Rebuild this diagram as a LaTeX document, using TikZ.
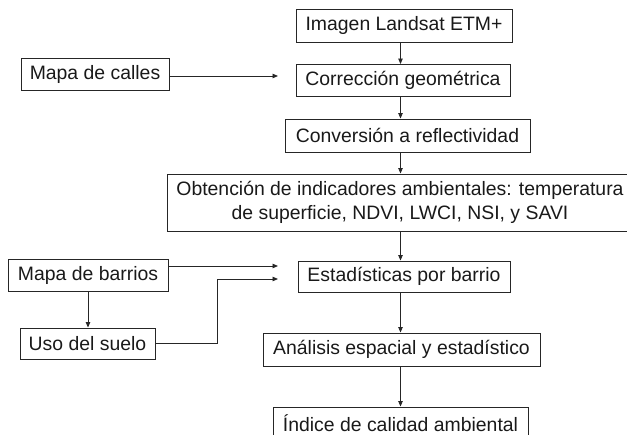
\documentclass[tikz,border=0pt]{standalone}
\usepackage{fontspec}
\setmainfont{Liberation Sans}
\usetikzlibrary{arrows.meta}
\begin{document}
\begin{tikzpicture}[x=1pt,y=-1pt,
  box/.style={draw=black!85, line width=0.9pt, inner sep=0pt, font=\fontsize{19.4}{24}\selectfont, text=black!90, align=center},
  conn/.style={draw=black!85, line width=0.9pt, -{Triangle[length=5.5pt,width=4.5pt]}}]
\useasboundingbox (0,0) rectangle (627,435);
\node[box, minimum width=216pt, minimum height=33pt] (landsat) at (404,25.5) {Imagen Landsat ETM+};
\node[box, minimum width=214pt, minimum height=32pt] (correc) at (403,80.5) {Corrección geométrica};
\node[box, minimum width=148pt, minimum height=32pt] (calles) at (95,74.5) {Mapa de calles};
\node[box, minimum width=245pt, minimum height=33pt] (conv) at (407.5,135.5) {Conversión a reflectividad};
\node[box, minimum width=466pt, minimum height=57pt] (obt) at (400,202.5) {Obtención de indicadores ambientales: temperatura\\de superficie, NDVI, LWCI, NSI, y SAVI};
\node[box, minimum width=212pt, minimum height=31pt] (estad) at (404,276.5) {Estadísticas por barrio};
\node[box, minimum width=160pt, minimum height=32pt] (barrios) at (88,275) {Mapa de barrios};
\node[box, minimum width=135pt, minimum height=31pt] (suelo) at (87.5,343.5) {Uso del suelo};
\node[box, minimum width=277pt, minimum height=33pt] (anal) at (401.5,349.5) {Análisis espacial y estadístico};
\node[box, minimum width=255pt, minimum height=33pt] (indice) at (400.5,423.5) {Índice de calidad ambiental};
\coordinate (ax) at (400.5,0);
\coordinate (ec1) at (278,266);
\coordinate (ec2) at (278,279);
\coordinate (ec0) at (278,76);
\coordinate (bx) at (217,0);
\draw[conn] (landsat.south -| ax) -- (correc.north -| ax);
\draw[conn] (correc.south -| ax) -- (conv.north -| ax);
\draw[conn] (conv.south -| ax) -- (obt.north -| ax);
\draw[conn] (obt.south -| ax) -- (estad.north -| ax);
\draw[conn] (estad.south -| ax) -- (anal.north -| ax);
\draw[conn] (anal.south -| ax) -- (indice.north -| ax);
\draw[conn] (calles.east |- ec0) -- (ec0);
\draw[conn] (barrios.east |- ec1) -- (ec1);
\draw[conn] (suelo.east) -- (suelo.east -| bx) -- (bx |- ec2) -- (ec2);
\draw[conn] (barrios.south) -- (suelo.north -| barrios.south);
\end{tikzpicture}
\end{document}
